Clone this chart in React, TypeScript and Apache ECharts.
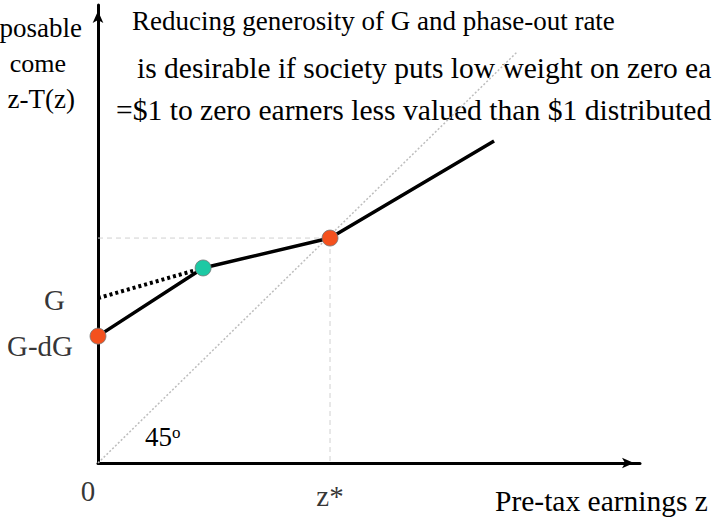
import React, { useEffect, useRef } from "react";
import * as echarts from "echarts";

// Values (x: pre-tax earnings, y: disposable income; z* = 100)
const ZSTAR = 100;
const G = 73.3;
const G_DG = 56.4;
const KINK1: [number, number] = [45.3, 86.7];
const KINK2: [number, number] = [ZSTAR, 100];
const LINE_END: [number, number] = [170.7, 143.1];
const DIAG_END: [number, number] = [180.6, 182.7];

const budgetLine: [number, number][] = [[0, G_DG], KINK1, KINK2, LINE_END];
const oldSegment: [number, number][] = [[0, G], KINK1];
const diagonal: [number, number][] = [[0, 0], DIAG_END];
const guides: [number, number][] = [[0, 100], [ZSTAR, 100], [ZSTAR, 0]];
const redPoints: [number, number][] = [[0, G_DG], KINK2];
const tealPoints: [number, number][] = [KINK1];

// Texts as visible in the reference (cut at the picture's edges)
const titleLines = [
  "Reducing generosity of G and phase-out rate",
  "is desirable if society puts low weight on zero ea",
  "=$1 to zero earners less valued than $1 distributed",
];
const yTitleLines = ["posable", "come", "z-T(z)"];
const xTitle = "Pre-tax earnings z";

const SERIF = "'Liberation Serif', 'Times New Roman', serif";

export default function App() {
  const ref = useRef<HTMLDivElement>(null);
  useEffect(() => {
    if (!ref.current) return;
    const chart = echarts.init(ref.current, undefined, { renderer: "svg" });
    const arrowLine = {
      show: true,
      onZero: true,
      symbol: ["none", "arrow"],
      symbolSize: [8, 12],
      symbolOffset: [0, -6],
      lineStyle: { color: "#000", width: 3 },
    };
    const txt = (text: string, x: number, y: number, size: number, align = "left") => ({
      type: "text",
      x,
      y,
      silent: true,
      style: {
        text,
        fill: "#000",
        fontSize: size,
        fontFamily: SERIF,
        align,
        textAlign: align,
        verticalAlign: "middle",
        textVerticalAlign: "middle",
      },
    });
    chart.setOption({
      animation: false,
      backgroundColor: "#fff",
      grid: { left: 98, right: 75, top: 5, bottom: 54 },
      xAxis: {
        type: "value",
        min: 0,
        max: 233.6,
        axisLine: arrowLine,
        axisTick: { show: false },
        axisLabel: { show: false },
        splitLine: { show: false },
      },
      yAxis: {
        type: "value",
        min: 0,
        max: 203.6,
        axisLine: arrowLine,
        axisTick: { show: false },
        axisLabel: { show: false },
        splitLine: { show: false },
      },
      series: [
        {
          type: "line",
          data: diagonal,
          symbol: "none",
          lineStyle: { color: "#bdbdbd", width: 1.5, type: [2, 2] },
          z: 1,
        },
        {
          type: "line",
          data: guides,
          symbol: "none",
          lineStyle: { color: "#d0d0d0", width: 1, type: [5, 4] },
          z: 1,
        },
        {
          type: "line",
          data: oldSegment,
          symbol: "none",
          lineStyle: { color: "#000", width: 4, type: [3, 3] },
          z: 2,
        },
        {
          type: "line",
          data: budgetLine,
          symbol: "none",
          lineStyle: { color: "#000", width: 3.5 },
          z: 3,
        },
        {
          type: "scatter",
          data: redPoints,
          symbolSize: 16,
          itemStyle: { color: "#F4511E", borderColor: "#777", borderWidth: 0.8, opacity: 1 },
          z: 5,
        },
        {
          type: "scatter",
          data: tealPoints,
          symbolSize: 16,
          itemStyle: { color: "#1DC9A4", borderColor: "#777", borderWidth: 0.8, opacity: 1 },
          z: 5,
        },
        {
          type: "scatter",
          symbolSize: 0,
          silent: true,
          data: [
            { value: [0, G], label: { formatter: "G", distance: 33, offset: [0, 2] } },
            { value: [0, G_DG], label: { formatter: "G-dG", distance: 25, offset: [0, 10] } },
          ],
          label: { show: true, position: "left", color: "#000", fontSize: 29, fontFamily: SERIF },
        },
        {
          type: "scatter",
          symbolSize: 0,
          silent: true,
          data: [
            { value: [0, 0], label: { formatter: "0", distance: 13, offset: [-10, 0] } },
            { value: [ZSTAR, 0], label: { formatter: "z*", distance: 18, offset: [0, 0] } },
          ],
          label: { show: true, position: "bottom", color: "#000", fontSize: 29, fontFamily: SERIF },
        },
      ],
      graphic: [
        txt(titleLines[0], 132, 21, 27),
        txt(titleLines[1], 137, 68, 29.5),
        txt(titleLines[2], 116, 110, 29.6),
        txt(yTitleLines[0], 82, 28, 27, "right"),
        txt(yTitleLines[1], 66, 63, 26, "right"),
        txt(yTitleLines[2], 75, 99, 27, "right"),
        txt(xTitle, 495, 501, 29.5),
        txt("45", 145, 437, 27),
        txt("o", 172, 432, 17),
      ],
    });
    return () => chart.dispose();
  }, []);
  return (
    <div
      ref={ref}
      style={{ position: "absolute", left: 0, top: 0, width: 715, height: 517, background: "#fff" }}
    />
  );
}
